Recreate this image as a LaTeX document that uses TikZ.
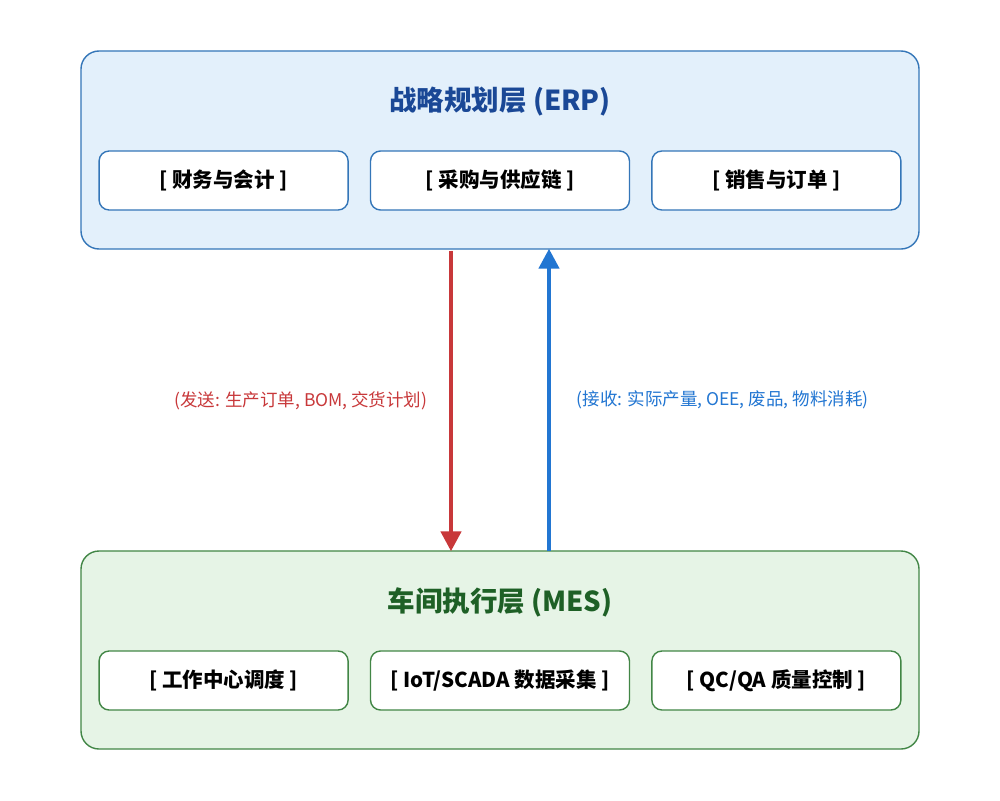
\documentclass[tikz,border=0pt]{standalone}
\usepackage{fontspec}
\setmainfont{Noto Sans CJK SC}
\usetikzlibrary{positioning,arrows.meta}
\definecolor{erpFill}{RGB}{227,240,251}
\definecolor{erpLine}{RGB}{52,118,184}
\definecolor{erpText}{RGB}{26,72,150}
\definecolor{mesFill}{RGB}{230,244,230}
\definecolor{mesLine}{RGB}{66,134,70}
\definecolor{mesText}{RGB}{30,96,38}
\definecolor{sendRed}{RGB}{200,56,58}
\definecolor{recvBlue}{RGB}{34,118,210}
\tikzset{
	layer/.style={
		draw,
		rounded corners=18pt,
		line width=1.4pt,
		minimum width=838pt,
		minimum height=198pt,
	},
	module/.style={
		draw,
		rounded corners=10pt,
		line width=1.4pt,
		fill=white,
		minimum width=249pt,
		minimum height=59pt,
		font=\fontsize{20.5}{24}\selectfont\bfseries,
	},
	caption/.style={
		font=\fontsize{27.5}{32}\selectfont\bfseries,
	},
	flow/.style={
		-{Triangle[length=20pt,width=20pt]},
		line width=4.5pt,
	},
	note/.style={
		font=\fontsize{17.5}{21}\selectfont,
	}
}

\begin{document}
\begin{tikzpicture}[x=1pt,y=-1pt]
			\useasboundingbox[fill=white] (0,0) rectangle (1000,800);
			% --- ERP layer ---
			\node[layer, draw=erpLine, fill=erpFill] (erp) at (500,150) {};
			\node[caption, text=erpText] (erptitle) at (500,102) {战略规划层 (ERP)};
			\node[module, draw=erpLine, minimum width=259pt] (purchase) at (500,180.5) {[ 采购与供应链 ]};
			\node[module, draw=erpLine] (finance) [left=21pt of purchase] {[ 财务与会计 ]};
			\node[module, draw=erpLine] (sales) [right=21pt of purchase] {[ 销售与订单 ]};
			
			% --- MES layer ---
			\node[layer, draw=mesLine, fill=mesFill] (mes) at (500,650) {};
			\node[caption, text=mesText] (mestitle) at (500,602) {车间执行层 (MES)};
			\node[module, draw=mesLine, minimum width=259pt] (iot) at (500,680.5) {[ IoT/SCADA 数据采集 ]};
			\node[module, draw=mesLine] (dispatch) [left=21pt of iot] {[ 工作中心调度 ]};
			\node[module, draw=mesLine] (quality) [right=21pt of iot] {[ QC/QA 质量控制 ]};
			
			% --- Flows ---
			\draw[flow, draw=sendRed, fill=sendRed] ([xshift=-49pt,yshift=-1pt]erp.south) -- ([xshift=-49pt,yshift=-1pt]mes.north)
			node[note, midway, left=18pt, text=sendRed] (sendlabel) {(发送: 生产订单, BOM, 交货计划)};
			\draw[flow, draw=recvBlue, fill=recvBlue] ([xshift=49pt,yshift=-1pt]mes.north) -- ([xshift=49pt,yshift=1pt]erp.south)
			node[note, midway, right=22pt, text=recvBlue] (recvlabel) {(接收: 实际产量, OEE, 废品, 物料消耗)};
		\end{tikzpicture}
\end{document}
